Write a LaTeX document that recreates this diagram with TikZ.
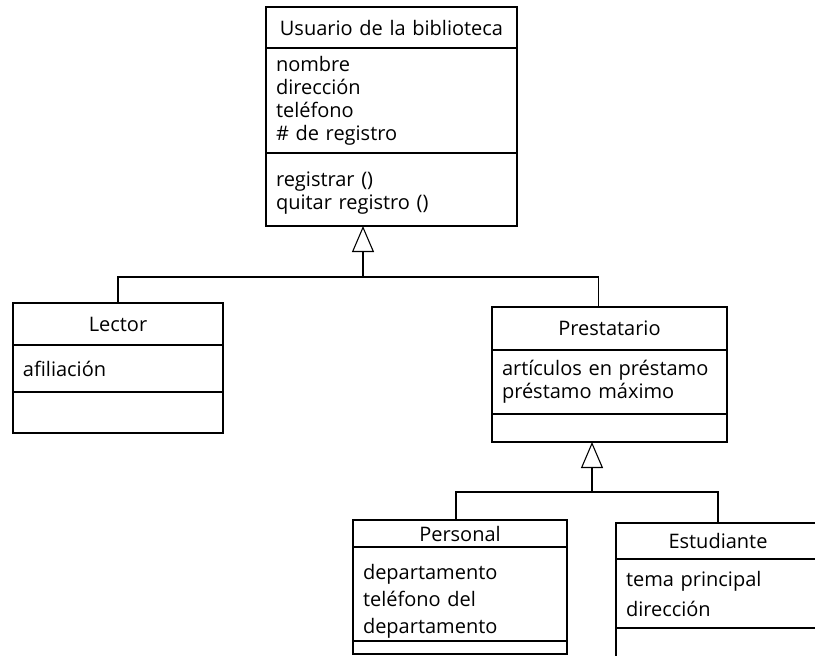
\documentclass[tikz,border=0pt]{standalone}
\usepackage{fontspec}
\setmainfont{Open Sans}
\usetikzlibrary{arrows.meta,positioning,calc}

\begin{document}
\begin{tikzpicture}[
  x=1pt, y=1pt,
  font=\fontsize{20}{23}\selectfont,
  cname/.style={draw, line width=1.1pt, outer sep=0pt, inner xsep=10pt, inner ysep=0pt,
    text width=#1, align=center},
  cpart/.style={draw, line width=1.1pt, outer sep=0pt, inner xsep=10pt, inner ysep=0pt,
    text width=#1, align=left},
  assoc/.style={line width=1.1pt},
  gen/.style={assoc, -{Triangle[open, length=26pt, width=22pt]}}
]
\path[use as bounding box, clip] (0,0) rectangle (815,-656);

% superclass
\node[cname=231pt, minimum height=41pt, anchor=north west] (usr) at (266,-7) {Usuario de la biblioteca};
\node[cpart=231pt, minimum height=105pt, below=0pt of usr] (usrA) {nombre\\dirección\\teléfono\\\# de registro};
\node[cpart=231pt, minimum height=73pt, below=0pt of usrA] (usrO) {\rule{0pt}{22pt}registrar ()\\quitar registro ()};

% subclasses
\node[cname=190pt, minimum height=42pt, anchor=north west] (lec) at (13,-303) {Lector};
\node[cpart=190pt, minimum height=47pt, below=0pt of lec] (lecA) {afiliación};
\node[cpart=190pt, minimum height=41pt, below=0pt of lecA] (lecO) {};

\node[cname=215pt, minimum height=43pt, anchor=north west] (pre) at (492,-307) {Prestatario};
\node[cpart=215pt, minimum height=64pt, below=0pt of pre] (preA) {artículos en préstamo\\préstamo máximo};
\node[cpart=215pt, minimum height=28pt, below=0pt of preA] (preO) {};

\node[cname=194pt, minimum height=27pt, anchor=north west] (per) at (353,-520) {Personal};
\node[cpart=194pt, minimum height=94pt, below=0pt of per] (perA) {\rule{0pt}{29pt}departamento\\[4pt]teléfono del\\[4pt]departamento};
\node[cpart=194pt, minimum height=13pt, below=0pt of perA] (perO) {};

\node[cname=184pt, minimum height=36pt, anchor=north west] (est) at (616,-523) {Estudiante};
\node[cpart=184pt, minimum height=69pt, below=0pt of est] (estA) {tema principal\\[7pt]dirección};
\node[cpart=184pt, minimum height=60pt, below=0pt of estA] (estO) {};

% generalisation
\coordinate (j1) at (363,-277);
\draw[assoc] (lec.north) |- (j1) -| ([xshift=-11pt]pre.north);
\draw[gen] (j1) -- (j1 |- usrO.south);

\coordinate (j2) at (592,-492);
\draw[assoc] ([xshift=-4pt]per.north) |- (j2) -| (est.north);
\draw[gen] (j2) -- (j2 |- preO.south);
\end{tikzpicture}
\end{document}
